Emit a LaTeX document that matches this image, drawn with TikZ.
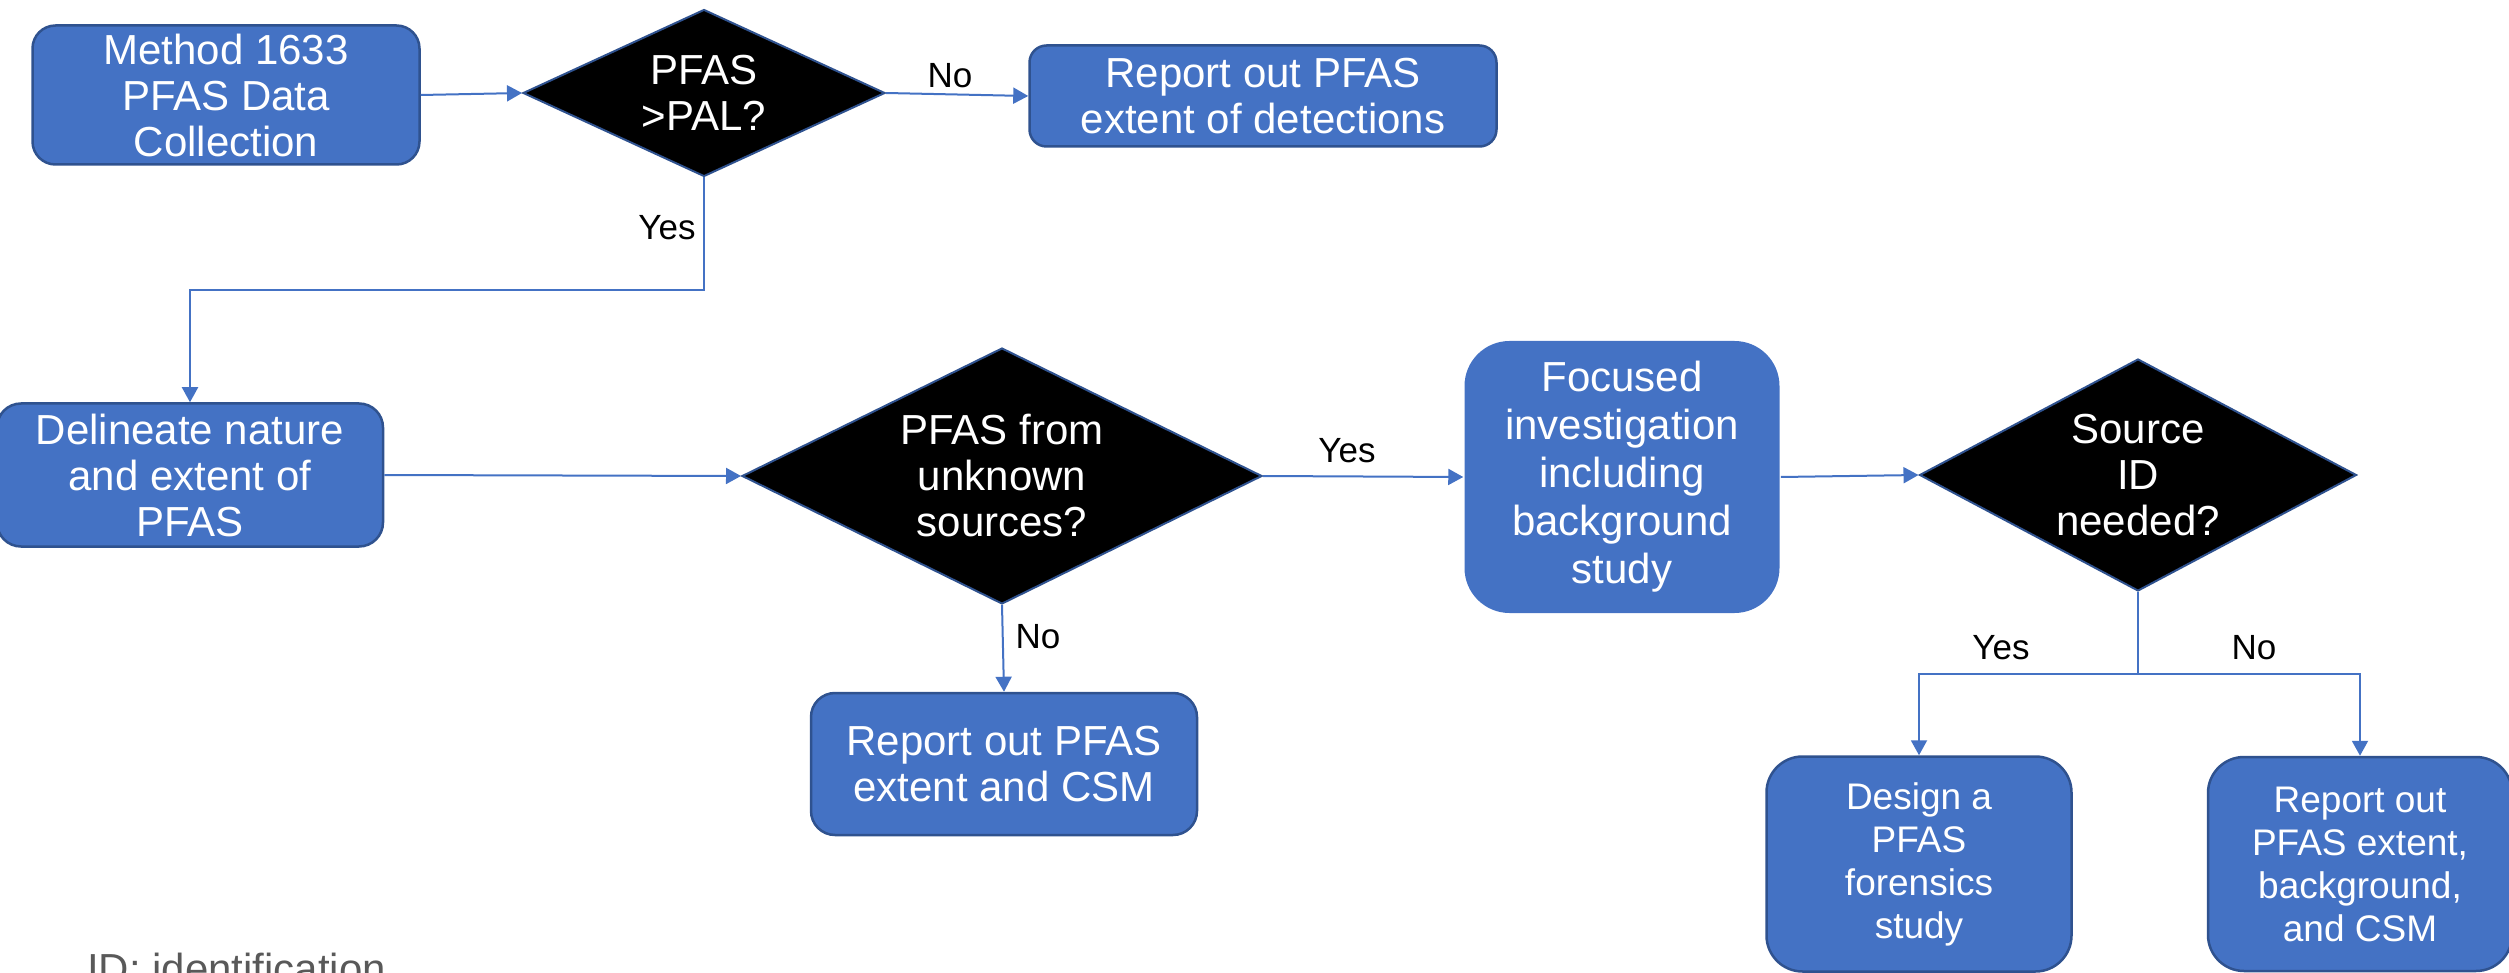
\documentclass[tikz,border=0pt]{standalone}
\usepackage{fontspec}
\setmainfont{Liberation Sans}
\usetikzlibrary{shapes.geometric,arrows.meta}
\definecolor{boxblue}{HTML}{4472C4}
\definecolor{edgeblue}{HTML}{2F528F}
\definecolor{notegray}{HTML}{595959}

\begin{document}
\begin{tikzpicture}[x=1pt,y=-1pt,
  stepbox/.style={rectangle, rounded corners=#1, fill=boxblue, draw=edgeblue,
    line width=2.5pt, text=white, align=center, inner sep=0pt,
    font=\fontsize{42}{46}\selectfont},
  stepbox/.default=24pt,
  decision/.style={diamond, fill=black, draw=edgeblue, line width=2pt,
    inner sep=0pt, aspect=1},
  dectext/.style={text=white, align=center, inner sep=0pt,
    font=\fontsize{42}{46}\selectfont},
  answer/.style={text=black, inner sep=0pt, font=\fontsize{35}{40}\selectfont},
  conn/.style={draw=boxblue, line width=2pt, -{Triangle[length=15pt,width=16pt]}},
  plain/.style={draw=boxblue, line width=2pt}
]
\useasboundingbox (0,0) rectangle (2509,973);

% process boxes
\node[stepbox=23pt, minimum width=387pt, minimum height=139pt] (b1) at (226,95)
  {Method 1633\\PFAS Data\\Collection};
\node[stepbox=17pt, minimum width=467pt, minimum height=101pt] (r1) at (1263,96)
  {Report out PFAS\\extent of detections};
\node[stepbox=24pt, minimum width=386pt, minimum height=143pt] (b2) at (190,475)
  {Delineate nature\\and extent of\\PFAS};
\node[stepbox=24pt, minimum width=386pt, minimum height=142pt] (b3) at (1004,764)
  {Report out PFAS\\extent and CSM};
\node[stepbox=45pt, draw=none, minimum width=315pt, minimum height=272pt,
  font=\fontsize{42}{48}\selectfont] (b4) at (1622,477)
  {Focused\\investigation\\including\\background\\study};
\node[stepbox=36pt, minimum width=305pt, minimum height=215pt,
  font=\fontsize{37}{43}\selectfont] (b5) at (1919,864)
  {Design a\\PFAS\\forensics\\study};
\node[stepbox=36pt, minimum width=304pt, minimum height=214pt,
  font=\fontsize{37}{43}\selectfont] (b6) at (2360,864)
  {Report out\\PFAS extent,\\background,\\and CSM};

% decisions
\node[decision, minimum width=362pt, minimum height=167pt] (d1) at (704,93) {};
\node[dectext] (d1t) at (d1) {PFAS\\>PAL?};
\node[decision, minimum width=520pt, minimum height=256pt] (d2) at (1002,476) {};
\node[dectext] (d2t) at (d2) {PFAS from\\unknown\\sources?};
\node[decision, minimum width=437pt, minimum height=232pt] (d3) at (2138,475) {};
\node[dectext] (d3t) at (d3) {Source\\ID\\needed?};

% turning points
\coordinate (yesturn) at (704,290);
\coordinate (split) at (2138,674);

% connectors
\draw[conn] (b1.east) -- (d1.west);
\draw[conn] (d1.east) -- (r1.west);
\draw[conn] (d1.south) -- (yesturn) -| (b2.north);
\draw[conn] (b2.east) -- (d2.west);
\draw[conn] (d2.south) -- (b3.north);
\draw[conn] (d2.east) -- (b4.west);
\draw[conn] (b4.east) -- (d3.west);
\draw[plain] (d3.south) -- (split);
\draw[conn] (split) -| (b5.north);
\draw[conn] (split) -| (b6.north);

% answers
\node[answer] (a1) at (950,76) {No};
\node[answer] (a2) at (667,228) {Yes};
\node[answer] (a3) at (1038,637) {No};
\node[answer] (a4) at (1347,451) {Yes};
\node[answer] (a5) at (2001,648) {Yes};
\node[answer] (a6) at (2254,648) {No};

% abbreviation note
\node[text=notegray, inner sep=0pt, anchor=base west,
  font=\fontsize{42}{46}\selectfont] (note) at (87,983) {ID: identification};
\end{tikzpicture}
\end{document}
